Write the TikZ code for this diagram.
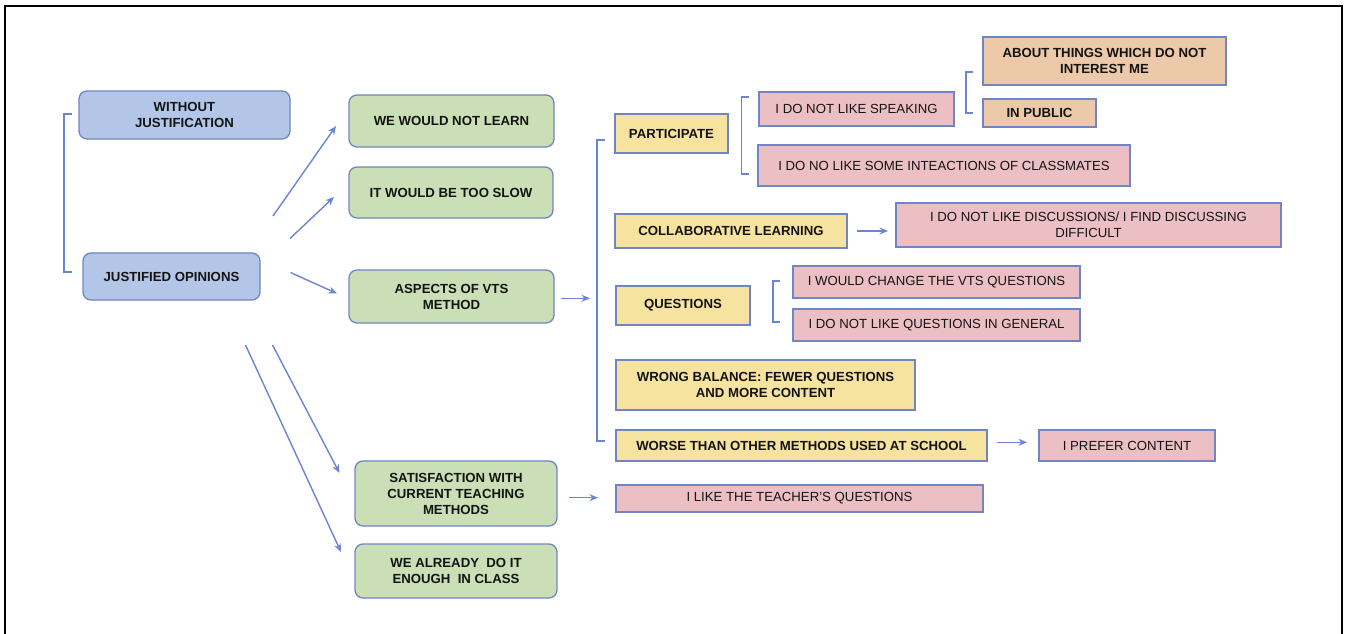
\documentclass[tikz,border=0pt]{standalone}
\usepackage{fontspec}
\setmainfont{Liberation Sans}
\usetikzlibrary{arrows.meta}
\definecolor{bfill}{RGB}{180,198,231}
\definecolor{gfill}{RGB}{202,223,181}
\definecolor{yfill}{RGB}{247,227,160}
\definecolor{pfill}{RGB}{235,191,195}
\definecolor{ofill}{RGB}{236,201,168}
\definecolor{bd}{RGB}{112,134,196}
\definecolor{ln}{RGB}{106,133,210}
\definecolor{txt}{RGB}{20,20,20}
\begin{document}
\begin{tikzpicture}[x=1pt,y=-1pt,
  box/.style={draw=bd, line width=1.3pt, inner sep=0pt, align=center, text=txt,
    font=\fontsize{13.2}{16}\selectfont\bfseries},
  sz/.style 2 args={minimum width=#1pt, minimum height=#2pt},
  bl/.style={box, fill=bfill, rounded corners=8pt},
  gr/.style={box, fill=gfill, rounded corners=8pt},
  ye/.style={box, fill=yfill},
  pk/.style={box, fill=pfill, font=\fontsize{13.2}{16}\selectfont},
  og/.style={box, fill=ofill},
  brk/.style={draw=ln, line width=1.3pt},
  arr/.style={draw=ln, line width=1.4pt, -{Stealth[length=8.5pt,width=7pt]}}]
\useasboundingbox (0,0) rectangle (1345,634);
% frame
\draw[line width=2pt, black] (5,634) -- (5,6) -- (1342,6) -- (1342,634);

% left column
\node[bl, sz={211}{48}] (wj) at (184.5,115) {WITHOUT\\JUSTIFICATION};
\node[bl, sz={177}{47}] (jo) at (171.5,276.5) {JUSTIFIED OPINIONS};
\draw[brk] (72,114) -- (64,114) -- (64,272) -- (72,272);

% green column
\node[gr, sz={205}{52}] (wwnl) at (451.5,121) {WE WOULD NOT LEARN};
\node[gr, sz={204}{51}] (slow) at (451,192.5) {IT WOULD BE TOO SLOW};
\node[gr, sz={205}{53}] (avm) at (451.5,296.5) {ASPECTS OF VTS\\METHOD};
\node[gr, sz={202}{65}] (sat) at (456,493.5) {SATISFACTION WITH\\CURRENT TEACHING\\METHODS};
\node[gr, sz={202}{54}] (wad) at (456,571) {WE ALREADY~ DO IT\\ENOUGH~ IN CLASS};

% arrows from justified opinions
\coordinate (a1s) at (273,216); \coordinate (a1e) at (336,126);
\coordinate (a2s) at (290,238.5); \coordinate (a2e) at (334,197);
\coordinate (a3s) at (290.5,272.5); \coordinate (a3e) at (337,293.5);
\coordinate (a4s) at (272.5,345); \coordinate (a4e) at (339.5,473);
\coordinate (a5s) at (245.5,345); \coordinate (a5e) at (341,552);
\draw[arr] (a1s) -- (a1e);
\draw[arr] (a2s) -- (a2e);
\draw[arr] (a3s) -- (a3e);
\draw[arr] (a4s) -- (a4e);
\draw[arr] (a5s) -- (a5e);

% yellow column
\node[ye, sz={113}{39}] (part) at (671.5,133.5) {PARTICIPATE};
\node[ye, sz={232}{34}] (coll) at (731,231) {COLLABORATIVE LEARNING};
\node[ye, sz={134}{39}] (ques) at (683,305.5) {QUESTIONS};
\node[ye, sz={299}{50}] (wb) at (765.5,385) {WRONG BALANCE: FEWER QUESTIONS\\AND MORE CONTENT};
\node[ye, sz={371}{31}] (worse) at (801.5,445.5) {WORSE THAN OTHER METHODS USED AT SCHOOL};
\draw[brk] (605,140) -- (597,140) -- (597,441) -- (605,441);

\coordinate (a6s) at (561,298.3); \coordinate (a6e) at (590,298.3);
\draw[arr] (a6s) -- (a6e);

% pink / orange
\node[pk, sz={195}{34}] (spk) at (856.5,109) {I DO NOT LIKE SPEAKING};
\node[pk, sz={372}{41}] (inter) at (944,165.5) {I DO NO LIKE SOME INTEACTIONS OF CLASSMATES};
\draw[brk] (749,97) -- (741.5,97) -- (741.5,174) -- (749,174);
\node[og, sz={243}{48}] (about) at (1104.5,61) {ABOUT THINGS WHICH DO NOT\\INTEREST ME};
\node[og, sz={113}{28}] (pub) at (1039.5,113) {IN PUBLIC};
\draw[brk] (973,72) -- (966,72) -- (966,113) -- (973,113);

\node[pk, sz={385}{44}] (disc) at (1088.5,225) {I DO NOT LIKE DISCUSSIONS/ I FIND DISCUSSING\\DIFFICULT};
\coordinate (a8s) at (857,231); \coordinate (a8e) at (888,231);
\draw[arr] (a8s) -- (a8e);

\node[pk, sz={287}{32}] (vtsq) at (936.5,282) {I WOULD CHANGE THE VTS QUESTIONS};
\node[pk, sz={287}{32}] (qgen) at (936.5,325) {I DO NOT LIKE QUESTIONS IN GENERAL};
\draw[brk] (780,281) -- (773,281) -- (773,322) -- (780,322);

\node[pk, sz={176}{31}] (pref) at (1127,445.5) {I PREFER CONTENT};
\coordinate (a9s) at (997,442.3); \coordinate (a9e) at (1027,442.3);
\draw[arr] (a9s) -- (a9e);

\node[pk, sz={367}{27}] (teach) at (799.5,498.5) {I LIKE THE TEACHER'S QUESTIONS};
\coordinate (a7s) at (569,497.7); \coordinate (a7e) at (598,497.7);
\draw[arr] (a7s) -- (a7e);
\end{tikzpicture}
\end{document}
